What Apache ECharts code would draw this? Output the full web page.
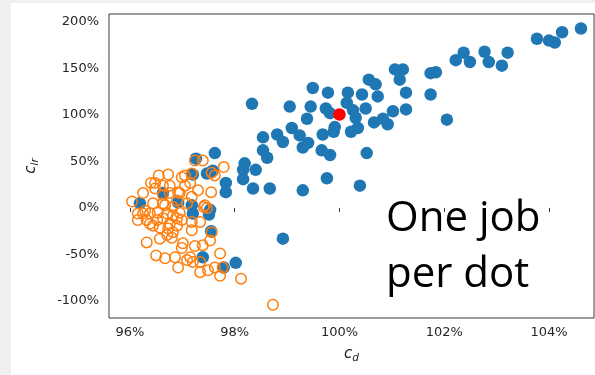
<!DOCTYPE html>
<html>
<head>
<meta charset="utf-8">
<script src="https://cdn.jsdelivr.net/npm/echarts@6/dist/echarts.min.js"></script>
<style>
  html, body { margin: 0; padding: 0; background: #fff; }
  #chart { width: 595px; height: 375px; }
</style>
</head>
<body>
<div id="chart"></div>
<script>
// c_d (%) and c_lr (%) per job
const blueCd = [104.61, 104.25, 104.11, 104.0, 103.77, 103.21, 103.10, 102.85, 102.77, 102.49,
  102.37, 102.22, 101.84, 101.74, 101.74, 102.05, 101.27, 101.27, 101.21, 101.06,
  101.15, 101.02, 100.92, 100.83, 100.66, 100.73, 100.69, 100.56, 100.43, 100.50,
  100.52, 100.39, 100.16, 100.14, 100.26, 100.31, 100.35, 100.22, 99.91, 99.89,
  99.68, 99.78, 99.74, 99.82, 99.49, 99.45, 99.38, 99.05, 99.09, 99.24,
  99.30, 99.40, 99.66, 99.82, 99.76, 99.30, 98.33, 98.54, 98.81, 98.92,
  98.54, 98.62, 97.62, 98.19, 98.16, 98.40, 98.16, 97.83, 97.83, 98.35,
  98.67, 97.26, 97.20, 97.47, 97.58, 96.63, 96.19, 96.92, 97.18, 97.20,
  97.53, 97.51, 97.55, 98.92, 97.39, 98.02, 97.79];
const blueClr = [193, 189, 178, 180, 182, 167, 153, 157, 168, 157,
  167, 159, 146, 145, 122, 95, 124, 106, 149, 149,
  138, 104, 90, 96, 92, 120, 133, 138, 122, 107,
  59, 24, 124, 113, 105, 97, 86, 82, 87, 82,
  79, 124, 107, 102, 129, 109, 96, 109, 86, 78,
  65, 70, 62, 57, 32, 19, 112, 76, 79, 71,
  62, 54, 59, 48, 41, 41, 31, 27, 17, 21,
  21, 53, 36, 37, 40, 16, 5, 6, 3, -6,
  -2, -7, -25, -33, -53, -59, -64];

const orangeCd = [96.04, 96.15, 96.15, 96.25, 96.40, 96.48, 96.55, 96.73, 96.32, 96.50,
  96.67, 96.92, 96.86, 97.01, 96.99, 97.15, 97.20, 97.09, 97.34, 97.49,
  97.62, 97.72, 97.77, 97.72, 98.12, 98.73, 97.24, 97.39, 97.53, 97.56,
  97.47, 97.41, 97.55, 97.30, 97.18, 97.15, 97.05, 97.18, 97.39, 97.24,
  97.56, 97.62, 97.79, 97.18, 97.18, 96.82, 96.71, 96.57, 96.76, 96.57,
  96.52, 96.38, 96.38, 96.44, 96.63, 96.82, 96.95, 96.99, 96.90, 97.09,
  96.76, 96.63, 96.95, 97.05, 96.25, 96.53, 96.71, 96.82, 96.63, 96.90,
  97.34, 96.76, 96.99, 96.92, 96.63, 96.48, 96.29, 96.32, 96.44, 96.73,
  96.90, 96.67, 97.43, 97.34, 96.80];
const orangeClr = [7, -6, -13, 16, 27, 27, 35, 36, -37, -51,
  -54, -64, -53, -38, -43, -53, -58, -56, -58, -67,
  -64, -49, -64, -73, -76, -104, -41, -40, -35, -26,
  0, 1, 17, 19, 12, 27, 35, 37, 51, 51,
  38, 35, 44, -24, -15, -26, -29, -33, -17, -21,
  -13, -17, -6, 5, 5, 1, -5, -13, 8, 5,
  16, 24, 16, 24, -6, -5, -6, -8, -11, -11,
  -69, 24, 33, 17, 14, 21, -3, -13, -19, -22,
  -19, 3, 3, -15, -32];

const redCd = [100.0];
const redClr = [100.5];

const xTicks = [96, 98, 100, 102, 104];
const yTicks = [-100, -50, 0, 50, 100, 150, 200];

const zip = (xs, ys) => xs.map((x, i) => [x, ys[i]]);

const X_MIN = 95.6, X_MAX = 104.859;
const GRID_LEFT = 109, GRID_RIGHT = 1, CHART_W = 595;
// one pixel in x data units: the y label anchors are tiny invisible lines at the left edge
const xPerPx = (X_MAX - X_MIN) / (CHART_W - GRID_LEFT - GRID_RIGHT);

const chart = echarts.init(document.getElementById('chart'), null, {renderer: 'canvas'});

const tickFont = {color: '#262626', fontFamily: 'DejaVu Sans', fontSize: 13};

const nameRich = {
  c: {fontFamily: 'DejaVu Sans', fontStyle: 'italic', fontSize: 15, color: '#262626'},
  s: {fontFamily: 'DejaVu Sans', fontStyle: 'italic', fontSize: 10.5, color: '#262626', padding: [9, 0, 0, 0]},
};

chart.setOption({
  backgroundColor: '#ffffff',
  animation: false,
  grid: {
    left: GRID_LEFT,
    top: 14,
    right: GRID_RIGHT,
    bottom: 57,
    outerBoundsMode: 'none',
    show: true,
    borderColor: '#3a3a3a',
    borderWidth: 1,
  },
  xAxis: {
    type: 'value',
    min: X_MIN,
    max: X_MAX,
    splitLine: {show: false},
    axisLine: {show: false},
    axisTick: {show: true, length: 4, customValues: xTicks, lineStyle: {color: '#3a3a3a'}},
    axisLabel: {...tickFont, margin: 8, customValues: xTicks, formatter: v => v + '%'},
    name: '{c|c}{s|d}',
    nameLocation: 'middle',
    nameGap: 26,
    nameTextStyle: {rich: nameRich},
  },
  yAxis: {
    type: 'value',
    min: -118.3,
    max: 208.6,
    splitLine: {show: false},
    axisLine: {show: false},
    axisTick: {show: false},
    // y tick labels come from the markLine below (axis labels landed on the wrong side)
    axisLabel: {show: false},
    name: '{c|c}{s|lr}',
    nameLocation: 'middle',
    nameGap: 68,
    nameTextStyle: {rich: nameRich},
  },
  series: [
    {
      name: 'memory-bound',
      type: 'scatter',
      data: zip(blueCd, blueClr),
      symbol: 'circle',
      symbolSize: 12.5,
      itemStyle: {color: '#1f77b4', opacity: 1},
      emphasis: {disabled: true},
      z: 2,
      markLine: {
        silent: true,
        symbol: 'none',
        animation: false,
        lineStyle: {color: '#ffffff', width: 0, type: 'solid', opacity: 1},
        label: {show: true, position: 'start', distance: 10, formatter: '{b}', opacity: 1, ...tickFont},
        emphasis: {disabled: true},
        data: yTicks.map(v => [
          {name: v + '%', coord: [X_MIN, v]},
          {coord: [X_MIN + xPerPx, v]},
        ]),
      },
    },
    {
      name: 'other',
      type: 'scatter',
      data: zip(orangeCd, orangeClr),
      symbol: 'circle',
      symbolSize: 10.5,
      itemStyle: {color: 'rgba(0,0,0,0)', borderColor: '#ff7f0e', borderWidth: 1.5, opacity: 1},
      emphasis: {disabled: true},
      z: 3,
    },
    {
      name: 'reference',
      type: 'scatter',
      data: zip(redCd, redClr),
      symbol: 'circle',
      symbolSize: 12.5,
      itemStyle: {color: '#ff0000', opacity: 1},
      emphasis: {disabled: true},
      z: 4,
    },
  ],
  graphic: [
    // grey frame around the slide area
    {type: 'rect', left: 0, top: 0, shape: {width: 11, height: 375}, style: {fill: '#eef0ef'}, silent: true},
    {type: 'rect', left: 0, top: 0, shape: {width: 595, height: 3}, style: {fill: '#eef0ef'}, silent: true},
    {
      type: 'text',
      x: 386,
      y: 219,
      style: {text: 'One job', fill: '#000', fontFamily: 'Open Sans', fontSize: 42, verticalAlign: 'middle'},
      z: 10,
    },
    {
      type: 'text',
      x: 386,
      y: 275,
      style: {text: 'per dot', fill: '#000', fontFamily: 'Open Sans', fontSize: 42, verticalAlign: 'middle'},
      z: 10,
    },
  ],
});
</script>
</body>
</html>
